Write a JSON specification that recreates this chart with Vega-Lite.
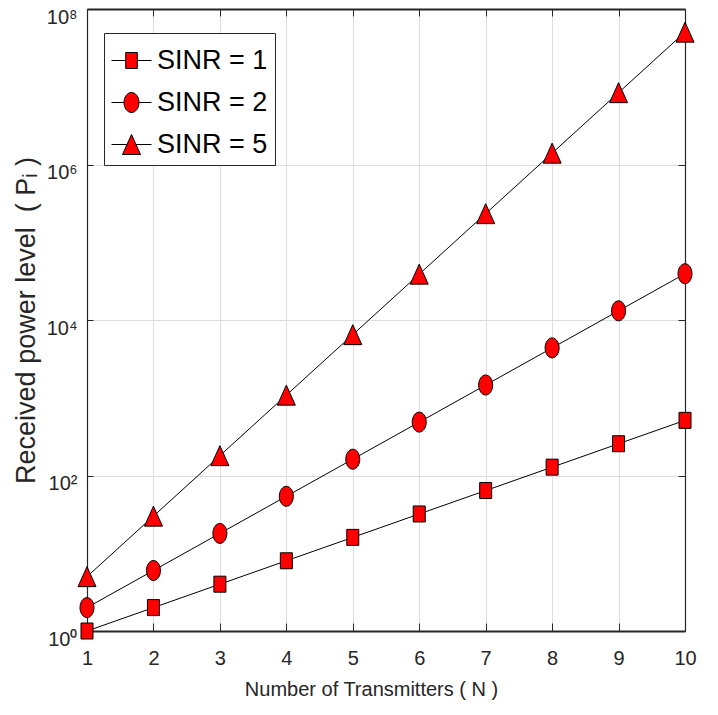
{
  "$schema": "https://vega.github.io/schema/vega-lite/v6.json",
  "autosize": {"type": "none"},
  "width": 598,
  "height": 622,
  "padding": {"left": 87, "top": 9, "right": 33, "bottom": 84},
  "background": "white",
  "config": {
    "view": {"stroke": null},
    "axis": {
      "labelFont": "Liberation Sans Narrow, Liberation Sans, Arial",
      "labelFontSize": 20,
      "labelColor": "#262626",
      "titleFont": "Liberation Sans Narrow, Liberation Sans, Arial",
      "titleFontWeight": "normal",
      "titleColor": "#262626",
      "domainColor": "#262626",
      "tickColor": "#262626",
      "gridColor": "#dedede",
      "gridWidth": 1
    }
  },
  "data": {
    "values": [
      {"N": 1, "P": 1, "s": "SINR = 1"},
      {"N": 2, "P": 2, "s": "SINR = 1"},
      {"N": 3, "P": 4, "s": "SINR = 1"},
      {"N": 4, "P": 8, "s": "SINR = 1"},
      {"N": 5, "P": 16, "s": "SINR = 1"},
      {"N": 6, "P": 32, "s": "SINR = 1"},
      {"N": 7, "P": 64, "s": "SINR = 1"},
      {"N": 8, "P": 128, "s": "SINR = 1"},
      {"N": 9, "P": 256, "s": "SINR = 1"},
      {"N": 10, "P": 512, "s": "SINR = 1"},
      {"N": 1, "P": 2, "s": "SINR = 2"},
      {"N": 2, "P": 6, "s": "SINR = 2"},
      {"N": 3, "P": 18, "s": "SINR = 2"},
      {"N": 4, "P": 54, "s": "SINR = 2"},
      {"N": 5, "P": 162, "s": "SINR = 2"},
      {"N": 6, "P": 486, "s": "SINR = 2"},
      {"N": 7, "P": 1458, "s": "SINR = 2"},
      {"N": 8, "P": 4374, "s": "SINR = 2"},
      {"N": 9, "P": 13122, "s": "SINR = 2"},
      {"N": 10, "P": 39366, "s": "SINR = 2"},
      {"N": 1, "P": 5, "s": "SINR = 5"},
      {"N": 2, "P": 30, "s": "SINR = 5"},
      {"N": 3, "P": 180, "s": "SINR = 5"},
      {"N": 4, "P": 1080, "s": "SINR = 5"},
      {"N": 5, "P": 6480, "s": "SINR = 5"},
      {"N": 6, "P": 38880, "s": "SINR = 5"},
      {"N": 7, "P": 233280, "s": "SINR = 5"},
      {"N": 8, "P": 1399680, "s": "SINR = 5"},
      {"N": 9, "P": 8398080, "s": "SINR = 5"},
      {"N": 10, "P": 50388480, "s": "SINR = 5"}
    ]
  },
  "resolve": {
    "axis": {"x": "independent", "y": "independent"},
    "scale": {"shape": "independent"}
  },
  "layer": [
    {
      "mark": {"type": "point", "filled": true, "fill": "red", "stroke": "black", "strokeWidth": 1, "opacity": 1, "size": 36},
      "encoding": {
        "x": {"field": "N", "type": "quantitative", "axis": null},
        "y": {"field": "P", "type": "quantitative", "axis": null},
        "shape": {
          "field": "s", "type": "nominal",
          "scale": {
            "domain": ["SINR = 1", "SINR = 2", "SINR = 5"],
            "range": [
              "M-1,0H-0.29M0.29,0H1M-0.29,-0.4H0.29V0.4H-0.29Z",
              "M-1,0H-0.375M0.375,0H1M-0.375,0A0.375,0.5,0,1,1,0.375,0A0.375,0.5,0,1,1,-0.375,0Z",
              "M-1,0H-0.225M0.225,0H1M0,-0.5L0.45,0.5L-0.45,0.5Z"
            ]
          },
          "legend": {
            "title": null,
            "orient": "none",
            "legendX": 17,
            "legendY": 24,
            "padding": 7,
            "rowPadding": 8,
            "strokeColor": "#262626",
            "fillColor": "white",
            "symbolSize": 1600,
            "symbolStrokeWidth": 1,
            "labelOffset": 5,
            "labelFont": "Liberation Sans Narrow, Liberation Sans, Arial",
            "labelFontSize": 27,
            "labelColor": "black",
            "labelLimit": 0,
            "encode": {
              "symbols": {
                "update": {
                  "stroke": {"value": "black"},
                  "strokeWidth": {"value": 1},
                  "fill": {"value": "red"},
                  "opacity": {"value": 1}
                }
              }
            }
          }
        }
      }
    },
    {
      "mark": {"type": "line", "color": "black", "strokeWidth": 1},
      "encoding": {
        "x": {
          "field": "N", "type": "quantitative",
          "scale": {"domain": [1, 10], "nice": false, "zero": false},
          "axis": {
            "orient": "bottom",
            "values": [1, 2, 3, 4, 5, 6, 7, 8, 9, 10],
            "format": "d",
            "tickSize": -8,
            "labelPadding": 25,
            "labelFlush": false,
            "domainWidth": 2,
            "grid": true,
            "title": "Number of Transmitters ( N )",
            "titleFontSize": 20,
            "titlePadding": 11,
            "titleX": 284
          }
        },
        "y": {
          "field": "P", "type": "quantitative",
          "scale": {"type": "log", "domain": [1, 100000000], "nice": false},
          "axis": {
            "orient": "left",
            "values": [1, 100, 10000, 1000000, 100000000],
            "labelExpr": "'10' + ['⁰','¹','²','³','⁴','⁵','⁶','⁷','⁸'][round(log(datum.value)/LN10)]",
            "tickSize": -6,
            "labelPadding": 16,
            "labelBaseline": "alphabetic",
            "labelOffset": 14,
            "labelFlush": false,
            "domainWidth": 1.2,
            "grid": true,
            "title": "Received power level\u00a0\u00a0(\u00a0Pᵢ\u00a0)",
            "titleFont": "Liberation Sans, Arial",
            "titleFontSize": 27,
            "titlePadding": 6
          }
        },
        "detail": {"field": "s"}
      }
    },
    {
      "mark": {"type": "point", "filled": true, "fill": "red", "stroke": "black", "strokeWidth": 1, "opacity": 1, "size": 100},
      "encoding": {
        "x": {
          "field": "N", "type": "quantitative",
          "axis": {
            "orient": "top",
            "values": [1, 2, 3, 4, 5, 6, 7, 8, 9, 10],
            "labels": false,
            "tickSize": -7,
            "domainWidth": 2,
            "grid": false,
            "title": null
          }
        },
        "y": {
          "field": "P", "type": "quantitative",
          "axis": {
            "orient": "right",
            "values": [1, 100, 10000, 1000000, 100000000],
            "labels": false,
            "tickSize": -7,
            "domainWidth": 1.2,
            "grid": false,
            "title": null
          }
        },
        "shape": {
          "field": "s", "type": "nominal",
          "scale": {
            "domain": ["SINR = 1", "SINR = 2", "SINR = 5"],
            "range": [
              "M-1.2,-1.6H1.2V1.6H-1.2Z",
              "M-1.4,0A1.4,2,0,1,1,1.4,0A1.4,2,0,1,1,-1.4,0Z",
              "M0,-2L1.8,2L-1.8,2Z"
            ]
          },
          "legend": null
        }
      }
    }
  ]
}
